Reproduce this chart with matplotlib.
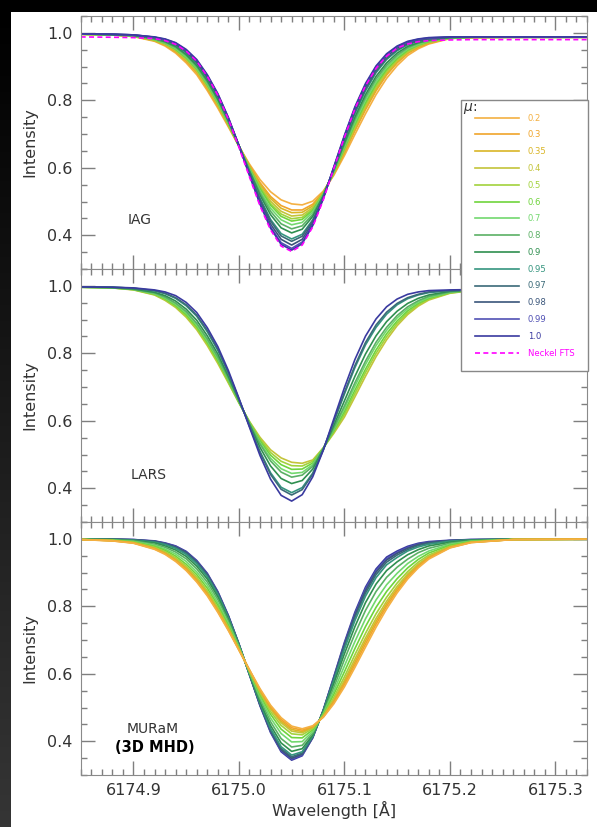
import numpy as np
import matplotlib.pyplot as plt
from matplotlib.patches import Rectangle
from matplotlib.colors import LinearSegmentedColormap
from matplotlib.ticker import MultipleLocator, FormatStrFormatter

# wavelength grid of the tabulated profiles [A]
wl = [6174.85, 6174.88, 6174.90, 6174.92, 6174.93, 6174.94, 6174.95, 6174.96,
      6174.97, 6174.98, 6174.99, 6175.00, 6175.01, 6175.02, 6175.03, 6175.04,
      6175.05, 6175.06, 6175.07, 6175.08, 6175.09, 6175.10, 6175.11, 6175.12,
      6175.13, 6175.14, 6175.15, 6175.16, 6175.17, 6175.18, 6175.20, 6175.22,
      6175.26, 6175.33]

mu_all = ['0.2', '0.3', '0.35', '0.4', '0.5', '0.6', '0.7', '0.8', '0.9',
          '0.95', '0.97', '0.98', '0.99', '1.0']
mu_colors = ['#f4b042', '#f0a42a', '#d9b526', '#c3c43a', '#a2d23c', '#6fd43c',
             '#72d86e', '#5bb065', '#2f8f4f', '#35957f', '#3b6a78', '#3a557a',
             '#5050b4', '#3a3aa0']

# IAG centre-to-limb profiles, one row per mu
iag = [
    [.996, .994, .989, .975, .961, .940, .911, .876, .829, .777, .721, .664, .611, .565, .529, .505, .493, .490, .501, .531, .578, .636, .699, .760, .817, .865, .903, .933, .953, .967, .983, .986, .987, .987],
    [.996, .994, .990, .977, .964, .944, .916, .882, .835, .783, .725, .664, .607, .556, .515, .488, .475, .475, .492, .528, .581, .644, .710, .772, .828, .875, .911, .939, .957, .969, .984, .986, .987, .987],
    [.996, .994, .990, .977, .965, .946, .919, .885, .838, .785, .726, .664, .605, .551, .509, .480, .467, .468, .487, .527, .583, .647, .715, .777, .833, .879, .914, .941, .959, .971, .984, .986, .987, .987],
    [.996, .994, .990, .978, .966, .948, .921, .888, .841, .788, .728, .665, .602, .546, .501, .471, .457, .460, .482, .525, .585, .652, .720, .783, .839, .884, .918, .944, .961, .972, .984, .987, .987, .987],
    [.996, .994, .991, .979, .968, .950, .924, .890, .844, .791, .730, .665, .600, .542, .494, .463, .449, .453, .478, .524, .586, .655, .725, .789, .844, .888, .922, .946, .962, .973, .985, .987, .987, .987],
    [.996, .994, .991, .980, .969, .951, .926, .893, .846, .793, .731, .665, .599, .538, .489, .456, .442, .447, .474, .523, .587, .658, .729, .793, .849, .892, .924, .949, .964, .974, .985, .987, .987, .987],
    [.996, .994, .991, .981, .970, .954, .929, .896, .850, .796, .734, .665, .596, .532, .480, .446, .431, .438, .469, .521, .589, .663, .736, .801, .855, .898, .929, .952, .966, .976, .985, .987, .987, .987],
    [.997, .995, .992, .982, .972, .957, .933, .900, .854, .800, .736, .665, .593, .526, .471, .434, .419, .428, .462, .519, .592, .668, .743, .809, .863, .904, .934, .956, .969, .977, .986, .987, .987, .987],
    [.997, .995, .992, .983, .974, .960, .936, .904, .859, .804, .739, .665, .590, .519, .461, .422, .407, .418, .456, .517, .594, .674, .751, .817, .871, .911, .940, .960, .971, .979, .986, .987, .988, .988],
    [.997, .995, .993, .985, .977, .964, .941, .910, .865, .810, .742, .666, .586, .510, .447, .405, .389, .403, .446, .514, .597, .682, .761, .828, .882, .921, .947, .965, .975, .981, .987, .988, .988, .988],
    [.997, .995, .993, .986, .978, .965, .943, .912, .867, .812, .744, .666, .584, .506, .442, .398, .382, .397, .443, .513, .598, .685, .765, .833, .886, .924, .950, .967, .976, .982, .987, .988, .988, .988],
    [.997, .996, .994, .987, .980, .968, .947, .916, .871, .815, .746, .666, .582, .500, .433, .388, .371, .388, .437, .511, .600, .689, .772, .840, .893, .930, .955, .970, .979, .984, .987, .988, .988, .988],
    [.997, .996, .994, .987, .981, .970, .949, .919, .874, .818, .748, .666, .579, .495, .425, .378, .361, .380, .432, .510, .602, .694, .778, .846, .899, .935, .959, .973, .981, .985, .988, .988, .988, .988],
    [.997, .996, .994, .988, .982, .971, .951, .921, .876, .820, .749, .666, .578, .492, .421, .373, .356, .375, .429, .509, .603, .696, .781, .850, .902, .938, .961, .975, .982, .986, .988, .988, .988, .988],
]
neckel = [.988, .987, .986, .983, .977, .966, .946, .916, .871, .815, .744, .661, .573, .487, .416, .368, .352, .371, .425, .505, .598, .690, .775, .843, .895, .931, .955, .967, .974, .977, .979, .980, .980, .980]

# LARS
lars_mu = ['0.4', '0.5', '0.6', '0.7', '0.8', '0.9', '0.95', '0.97', '1.0']
lars = [
    [.996, .994, .988, .973, .957, .936, .907, .870, .823, .770, .712, .653, .598, .551, .514, .490, .477, .474, .484, .520, .563, .611, .671, .732, .790, .840, .882, .915, .940, .958, .978, .986, .989, .990],
    [.996, .994, .989, .974, .959, .939, .911, .875, .828, .775, .715, .654, .597, .546, .506, .480, .467, .466, .480, .519, .567, .619, .681, .743, .800, .849, .889, .920, .944, .961, .979, .986, .989, .990],
    [.996, .994, .989, .976, .962, .942, .915, .879, .833, .779, .719, .655, .595, .541, .498, .470, .456, .457, .475, .519, .571, .627, .691, .753, .810, .858, .896, .926, .948, .963, .980, .987, .989, .990],
    [.996, .995, .990, .977, .964, .946, .920, .885, .838, .785, .723, .657, .593, .535, .489, .458, .444, .447, .470, .518, .576, .636, .703, .767, .823, .868, .905, .932, .952, .966, .981, .987, .989, .990],
    [.996, .995, .990, .979, .967, .949, .924, .889, .843, .789, .726, .658, .592, .531, .481, .448, .433, .439, .465, .517, .579, .644, .713, .777, .833, .877, .912, .938, .956, .969, .982, .987, .989, .990],
    [.997, .995, .991, .981, .971, .955, .931, .898, .852, .798, .732, .661, .589, .521, .466, .429, .414, .423, .457, .516, .587, .659, .732, .798, .852, .894, .925, .948, .963, .973, .984, .988, .989, .990],
    [.997, .996, .993, .985, .977, .963, .941, .910, .864, .809, .741, .664, .585, .509, .446, .403, .387, .402, .445, .515, .597, .679, .758, .825, .877, .916, .944, .962, .973, .980, .986, .988, .989, .990],
    [.997, .996, .993, .986, .978, .965, .944, .913, .868, .812, .743, .665, .584, .506, .441, .397, .380, .396, .442, .514, .599, .684, .764, .832, .884, .922, .948, .965, .975, .982, .986, .988, .989, .990],
    [.997, .996, .994, .988, .982, .971, .951, .921, .876, .820, .749, .667, .581, .497, .427, .379, .362, .381, .434, .513, .606, .698, .782, .851, .902, .938, .961, .975, .982, .986, .988, .989, .989, .990],
]

# MURaM synthetic profiles
muram = [
    [.998, .994, .987, .969, .954, .933, .906, .872, .831, .782, .728, .670, .612, .556, .507, .470, .445, .437, .446, .471, .511, .561, .619, .679, .738, .792, .840, .881, .914, .940, .973, .989, .998, .999],
    [.998, .994, .988, .970, .956, .935, .909, .875, .834, .785, .730, .671, .611, .553, .503, .465, .440, .433, .444, .472, .515, .568, .627, .688, .747, .800, .846, .886, .918, .943, .974, .989, .998, .999],
    [.998, .995, .988, .972, .957, .938, .912, .878, .838, .788, .733, .672, .611, .551, .499, .460, .435, .429, .442, .473, .519, .574, .635, .697, .755, .807, .852, .891, .921, .945, .975, .990, .998, .999],
    [.998, .995, .989, .973, .959, .940, .915, .882, .841, .791, .735, .673, .610, .548, .495, .455, .430, .425, .441, .474, .523, .581, .644, .706, .764, .815, .859, .896, .925, .948, .976, .990, .998, .999],
    [.998, .995, .990, .975, .962, .944, .919, .887, .846, .796, .738, .674, .609, .544, .488, .447, .422, .419, .438, .476, .530, .591, .657, .720, .778, .827, .869, .903, .931, .952, .978, .991, .998, .999],
    [.998, .996, .991, .978, .966, .949, .925, .894, .854, .803, .743, .676, .607, .539, .480, .436, .411, .410, .434, .479, .539, .606, .675, .740, .797, .844, .882, .914, .939, .958, .981, .992, .998, .999],
    [.998, .996, .992, .981, .970, .955, .933, .902, .863, .811, .749, .679, .605, .532, .469, .423, .398, .399, .429, .481, .549, .623, .696, .763, .819, .864, .898, .927, .948, .964, .984, .993, .998, .999],
    [.999, .997, .994, .984, .975, .961, .941, .911, .872, .820, .756, .682, .603, .525, .458, .408, .383, .388, .424, .484, .560, .642, .719, .788, .844, .886, .916, .940, .959, .972, .987, .994, .999, .999],
    [.999, .998, .995, .988, .979, .967, .948, .919, .881, .828, .761, .684, .601, .518, .447, .395, .370, .378, .419, .487, .571, .659, .740, .811, .866, .906, .932, .953, .968, .979, .990, .996, .999, .999],
    [.999, .998, .996, .990, .983, .972, .954, .926, .888, .835, .766, .686, .599, .513, .438, .384, .359, .369, .415, .490, .580, .673, .758, .830, .885, .923, .945, .964, .976, .984, .993, .997, .999, .999],
    [.999, .999, .997, .992, .985, .974, .957, .930, .891, .838, .769, .687, .599, .510, .434, .379, .354, .365, .414, .491, .584, .680, .767, .839, .894, .931, .952, .968, .980, .987, .994, .997, .999, .999],
    [.999, .999, .997, .993, .986, .976, .960, .932, .894, .840, .770, .688, .598, .508, .431, .375, .350, .362, .412, .492, .587, .685, .773, .846, .901, .937, .957, .972, .983, .989, .995, .997, .999, .999],
    [.999, .999, .998, .993, .987, .978, .961, .934, .896, .842, .772, .688, .597, .507, .428, .372, .347, .359, .411, .492, .590, .689, .778, .852, .906, .941, .960, .975, .985, .990, .995, .998, .999, .999],
    [.999, .999, .998, .994, .988, .979, .963, .936, .898, .844, .773, .689, .597, .505, .426, .369, .344, .357, .410, .493, .592, .693, .783, .857, .911, .946, .964, .978, .987, .992, .996, .998, .999, .999],
]

W, H = 597, 827
fig = plt.figure(figsize=(W / 100, H / 100), dpi=100, facecolor='white')

# dark page border
fig.add_artist(Rectangle((0, 1 - 12 / H), 1, 12 / H, transform=fig.transFigure,
                         facecolor='black', edgecolor='none', zorder=0))
strip = fig.add_axes([0, 0, 11 / W, 1 - 12 / H])
strip.imshow(np.linspace(0, 1, 256).reshape(-1, 1), aspect='auto',
             cmap=LinearSegmentedColormap.from_list('edge', ['#000000', '#353535']),
             extent=[0, 1, 0, 1], origin='upper')
strip.axis('off')

txt = '#333333'
left, width, height = 80.7 / W, 506.3 / W, 253 / H
bottoms = [(H - 269) / H, (H - 522) / H, (H - 775) / H]
axes = [fig.add_axes([left, b, width, height]) for b in bottoms]

for ax in axes:
    ax.set_xlim(6174.85, 6175.33)
    ax.set_ylim(0.30, 1.05)
    ax.xaxis.set_major_locator(MultipleLocator(0.1))
    ax.xaxis.set_minor_locator(MultipleLocator(0.01))
    ax.yaxis.set_major_locator(MultipleLocator(0.2))
    ax.yaxis.set_minor_locator(MultipleLocator(0.05))
    ax.xaxis.set_major_formatter(FormatStrFormatter('%.1f'))
    ax.yaxis.set_major_formatter(FormatStrFormatter('%.1f'))
    ax.tick_params(which='both', direction='in', top=True, right=True,
                   color='#7f7f7f', labelcolor=txt, labelsize=11.5, width=1)
    ax.tick_params(which='major', length=10, pad=6)
    ax.tick_params(which='minor', length=4.5)
    for s in ax.spines.values():
        s.set_color('#8a8a8a')
    ax.set_ylabel('Intensity', fontsize=11.5, color=txt, labelpad=7)

axes[0].tick_params(labelbottom=False)
axes[1].tick_params(labelbottom=False)
axes[2].set_xlabel('Wavelength [Å]', fontsize=11.5, color=txt, labelpad=2)

# IAG
handles = []
for prof, c in zip(iag, mu_colors):
    ln, = axes[0].plot(wl, prof, color=c, lw=1.2)
    handles.append(ln)
ln, = axes[0].plot(wl, neckel, color='#ff00ff', lw=1.2, ls='--', dashes=(3, 2))
handles.append(ln)
axes[0].text(6174.906, 0.445, 'IAG', fontsize=10, color=txt, ha='center', va='center')

# LARS
for prof, m in zip(lars, lars_mu):
    axes[1].plot(wl, prof, color=mu_colors[mu_all.index(m)], lw=1.2)
axes[1].text(6174.914, 0.439, 'LARS', fontsize=10, color=txt, ha='center', va='center')

# MURaM, disc centre drawn first
for prof, c in list(zip(muram, mu_colors))[::-1]:
    axes[2].plot(wl, prof, color=c, lw=1.2)
axes[2].text(6174.918, 0.436, 'MURaM', fontsize=10, color=txt, ha='center', va='center')
axes[2].text(6174.920, 0.383, '(3D MHD)', fontsize=10.5, color='black',
             fontweight='bold', ha='center', va='center')

fig.legend(handles=handles, labels=mu_all + ['Neckel FTS'], loc='upper left',
           bbox_to_anchor=(461 / W, 1 - 100 / H), borderaxespad=0,
           frameon=True, fancybox=False, edgecolor='#888888', framealpha=1,
           fontsize=6.1, labelcolor='linecolor', handlelength=5.3,
           handletextpad=1.0, labelspacing=0.92, borderpad=1.6)
fig.text(463 / W, 1 - 101 / H, r'$\mu$:', fontsize=10, color=txt,
         ha='left', va='top', zorder=10)

fig.savefig('out.png', dpi=100, facecolor='white')
